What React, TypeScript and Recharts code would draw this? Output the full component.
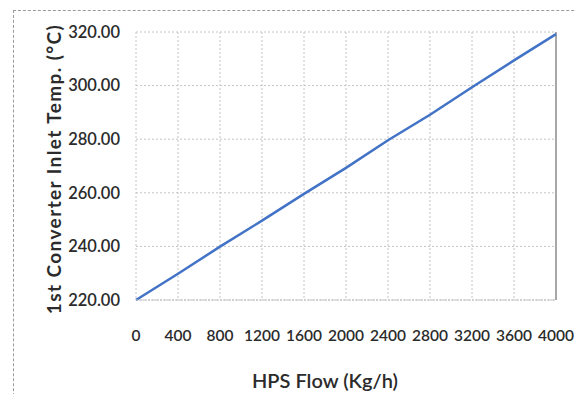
import {
  LineChart,
  Line,
  XAxis,
  YAxis,
  CartesianGrid,
  ReferenceLine,
} from "recharts";

// Data
const flowValues = [0, 400, 800, 1200, 1600, 2000, 2400, 2800, 3200, 3600, 4000];
const inletTemps = [220, 229.8, 239.9, 249.6, 259.6, 269.3, 279.6, 289.1, 299.4, 309.4, 319.2];
const xTicks = [0, 400, 800, 1200, 1600, 2000, 2400, 2800, 3200, 3600, 4000];
const yTicks = [220, 240, 260, 280, 300, 320];

const data = flowValues.map((flow, i) => ({ flow, temp: inletTemps[i] }));

const FONT = "Lato, 'Open Sans', sans-serif";
const TEXT = "#2b2b2b";

function YTitle() {
  return (
    <text
      x={53}
      y={169}
      transform="rotate(-90, 53, 169)"
      textAnchor="middle"
      dominantBaseline="central"
      fill={TEXT}
      fontFamily={FONT}
      fontSize={19}
      fontWeight={700}
      letterSpacing={1.4}
    >
      1st Converter Inlet Temp. (°C)
    </text>
  );
}

function XTitle() {
  return (
    <text
      x={325}
      y={380}
      textAnchor="middle"
      dominantBaseline="central"
      fill={TEXT}
      fontFamily={FONT}
      fontSize={20}
      fontWeight={600}
    >
      HPS Flow (Kg/h)
    </text>
  );
}

export default function App() {
  return (
    <div
      style={{
        position: "absolute",
        left: 0,
        top: 0,
        width: 576,
        height: 394,
        overflow: "hidden",
        background: "#fff",
      }}
    >
      {/* dashed frame */}
      <div
        style={{
          position: "absolute",
          left: 13,
          top: 10,
          width: 620,
          height: 420,
          borderTop: "1px dashed #9a9a9a",
          borderLeft: "1px dashed #9a9a9a",
        }}
      />
      <div style={{ position: "absolute", left: 0, top: 0 }}>
        <LineChart
          width={576}
          height={394}
          data={data}
          margin={{ top: 32, right: 20, left: 0, bottom: 34 }}
        >
          <CartesianGrid stroke="#c4c4c4" strokeDasharray="2 2" />
          <XAxis
            dataKey="flow"
            type="number"
            domain={[0, 4000]}
            ticks={xTicks}
            interval={0}
            height={60}
            axisLine={{ stroke: "#bdbdbd", strokeDasharray: "2 1" }}
            tickLine={false}
            tickSize={0}
            tickMargin={30}
            tick={{ fill: TEXT, fontSize: 15.5, fontFamily: FONT, fontWeight: 600 }}
            label={{ content: () => <XTitle /> }}
          />
          <YAxis
            type="number"
            domain={[220, 320]}
            ticks={yTicks}
            interval={0}
            width={136}
            axisLine={false}
            tickLine={false}
            tickSize={0}
            tickMargin={16}
            tickFormatter={(v: number) => v.toFixed(2)}
            tick={{ fill: TEXT, fontSize: 16.5, fontFamily: FONT, fontWeight: 600 }}
            label={{ content: () => <YTitle /> }}
          />
          <ReferenceLine x={4000} stroke="#a8a8a8" strokeWidth={2} />
          <Line
            type="linear"
            dataKey="temp"
            stroke="#4273c6"
            strokeWidth={2.5}
            dot={false}
            isAnimationActive={false}
          />
        </LineChart>
      </div>
    </div>
  );
}
